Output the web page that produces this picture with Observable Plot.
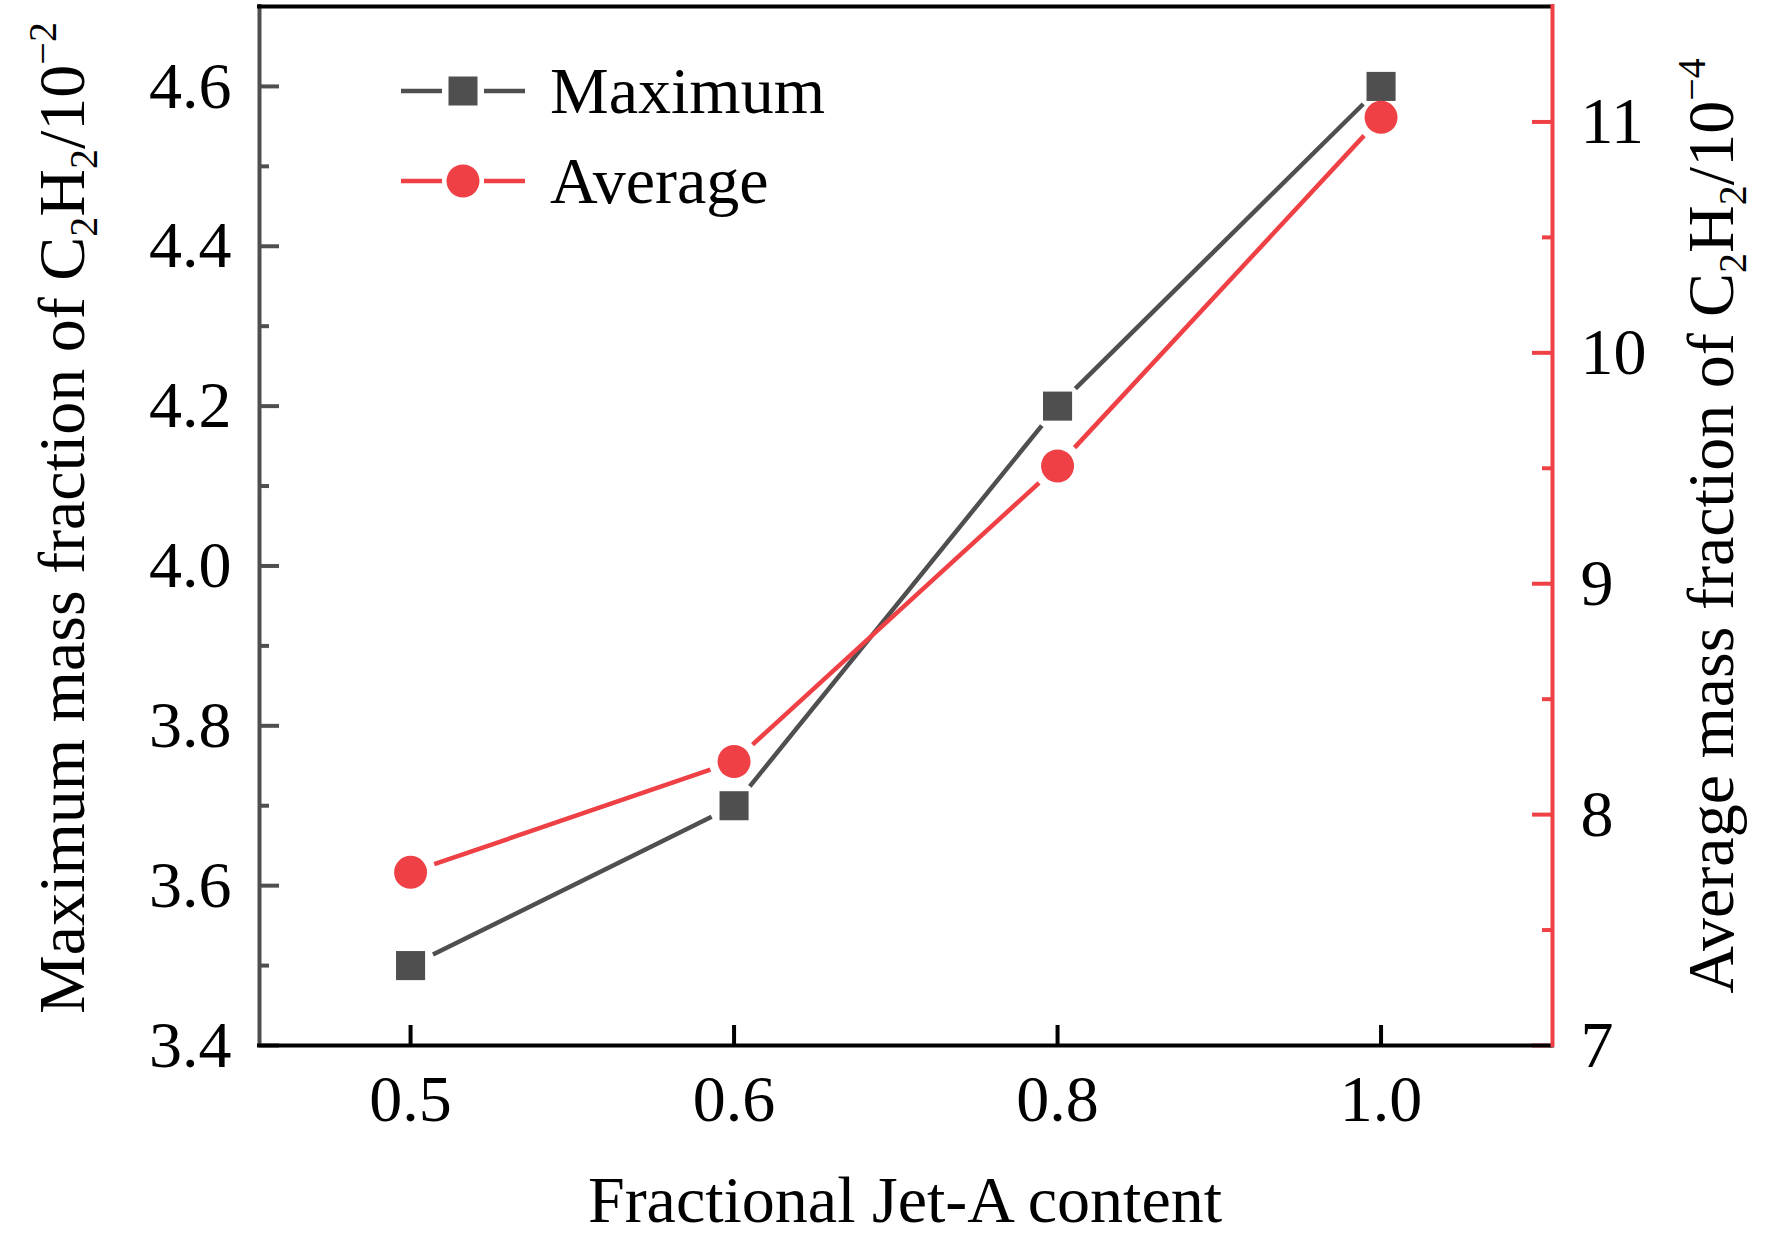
<!DOCTYPE html>
<html><head><meta charset="utf-8">
<script src="https://cdn.jsdelivr.net/npm/d3@7"></script>
<script src="https://cdn.jsdelivr.net/npm/@observablehq/plot@0.6"></script>
<style>html,body{margin:0;padding:0;background:#fff;} #chart{width:1772px;height:1243px;}</style>
</head><body><div id="chart"></div>
<script>
// ---- data ----
const categories = ["0.5", "0.6", "0.8", "1.0"];
const maximumValues = [3.5, 3.7, 4.2, 4.6];      // left axis, ×10^-2
const averageValues = [7.75, 8.23, 9.51, 11.02]; // right axis, ×10^-4
const leftMajorTicks = [3.4, 3.6, 3.8, 4.0, 4.2, 4.4, 4.6];
const leftMinorTicks = [3.5, 3.7, 3.9, 4.1, 4.3, 4.5];
const rightMajorTicks = [7, 8, 9, 10, 11];
const rightMinorTicks = [7.5, 8.5, 9.5, 10.5];
const leftDomain = [3.4, 4.7];
const rightDomain = [7, 11.5];
const xDomain = [-0.467, 3.530];
const seriesNames = ["Maximum", "Average"];

// ---- style ----
const GRAY = "#4f4f4f", RED = "#ee4045";
const W = 1772, H = 1243, mL = 259, mR = 220, mT = 6, mB = 198;
const plotW = W - mL - mR, plotH = H - mT - mB;
const FS = 66, FONT = "Liberation Serif, Times New Roman, serif";

const k = (leftDomain[1] - leftDomain[0]) / (rightDomain[1] - rightDomain[0]);
const toLeft = v => leftDomain[0] + (v - rightDomain[0]) * k;
const fromLeft = v => rightDomain[0] + (v - leftDomain[0]) / k;

const maxData = maximumValues.map((v, i) => ({i, v}));
const avgData = averageValues.map((v, i) => ({i, v: toLeft(v)}));
const segs = d => d.slice(1).map((p, j) => ({x1: d[j].i, y1: d[j].v, x2: p.i, y2: p.v}));

const plot = Plot.plot({
  width: W, height: H,
  marginLeft: mL, marginRight: mR, marginTop: mT, marginBottom: mB,
  style: {fontFamily: FONT, fontSize: FS + "px", color: "black", background: "white"},
  x: {domain: xDomain},
  y: {domain: leftDomain},
  marks: [
    // inward ticks
    Plot.ruleY(leftMajorTicks, {y: d => d, stroke: GRAY, strokeWidth: 4, insetRight: plotW - 20}),
    Plot.ruleY(leftMinorTicks, {y: d => d, stroke: GRAY, strokeWidth: 4, insetRight: plotW - 10}),
    Plot.ruleY(rightMajorTicks.map(toLeft), {y: d => d, stroke: RED, strokeWidth: 4, insetLeft: plotW - 20}),
    Plot.ruleY(rightMinorTicks.map(toLeft), {y: d => d, stroke: RED, strokeWidth: 4, insetLeft: plotW - 10}),
    Plot.ruleX(categories.map((_, i) => i), {x: d => d, stroke: "black", strokeWidth: 4, insetTop: plotH - 20}),
    // frame
    Plot.ruleX([xDomain[0]], {x: d => d, stroke: GRAY, strokeWidth: 4, insetTop: -2, insetBottom: -2}),
    Plot.ruleY([leftDomain[1]], {y: d => d, stroke: "black", strokeWidth: 4, insetLeft: -2, insetRight: -2}),
    Plot.ruleY([leftDomain[0]], {y: d => d, stroke: "black", strokeWidth: 4, insetLeft: -2, insetRight: -2}),
    Plot.ruleX([xDomain[1]], {x: d => d, stroke: RED, strokeWidth: 4, insetTop: -2, insetBottom: -2}),
    // tick labels
    Plot.axisY({anchor: "left", ticks: leftMajorTicks, tickSize: 0, tickPadding: 28, fontSize: FS,
      tickFormat: d => d.toFixed(1), label: null}),
    Plot.axisY({anchor: "right", ticks: rightMajorTicks.map(toLeft), tickSize: 0, tickPadding: 28, fontSize: FS,
      tickFormat: d => String(Math.round(fromLeft(d))), label: null}),
    Plot.axisX({anchor: "bottom", ticks: categories.map((_, i) => i), tickSize: 0, tickPadding: 29, fontSize: FS,
      tickFormat: d => categories[Math.round(d)], label: null}),
    // series lines with gaps at markers
    Plot.arrow(segs(maxData), {x1: "x1", y1: "y1", x2: "x2", y2: "y2", stroke: GRAY, strokeWidth: 4.5,
      headLength: 0, insetStart: 25, insetEnd: 25, strokeLinecap: "butt"}),
    Plot.arrow(segs(avgData), {x1: "x1", y1: "y1", x2: "x2", y2: "y2", stroke: RED, strokeWidth: 4.5,
      headLength: 0, insetStart: 25, insetEnd: 25, strokeLinecap: "butt"}),
    Plot.dot(maxData, {x: "i", y: "v", symbol: "square", r: 16.4, fill: GRAY}),
    Plot.dot(avgData, {x: "i", y: "v", symbol: "circle", r: 16.5, fill: RED})
  ]
});

const svg = d3.select(plot);
function rich(sel, parts) {
  let shift = 0;
  parts.forEach(p => {
    const target = p[1] === "sub" ? 13 : p[1] === "sup" ? -28 : 0;
    const t = sel.append("tspan").text(p[0]).attr("dy", target - shift);
    if (p[1]) t.attr("font-size", 40);
    shift = target;
  });
}
const baseText = () => svg.append("text").attr("font-family", FONT).attr("font-size", FS).attr("fill", "black");

rich(baseText().attr("text-anchor", "middle").attr("transform", "translate(84,518) rotate(-90)"),
  [["Maximum mass fraction of C"], ["2", "sub"], ["H"], ["2", "sub"], ["/10"], ["\u22122", "sup"]]);
rich(baseText().attr("text-anchor", "middle").attr("transform", "translate(1733,526) rotate(-90)"),
  [["Average mass fraction of C"], ["2", "sub"], ["H"], ["2", "sub"], ["/10"], ["\u22124", "sup"]]);
baseText().attr("text-anchor", "middle").attr("x", 905).attr("y", 1222).text("Fractional Jet-A content");

// legend
const leg = svg.append("g");
[[seriesNames[0], GRAY, "square", 91], [seriesNames[1], RED, "circle", 181]].forEach(([name, c, sym, y]) => {
  leg.append("line").attr("x1", 401).attr("x2", 442).attr("y1", y).attr("y2", y).attr("stroke", c).attr("stroke-width", 4.5);
  leg.append("line").attr("x1", 484).attr("x2", 525).attr("y1", y).attr("y2", y).attr("stroke", c).attr("stroke-width", 4.5);
  if (sym === "square") leg.append("rect").attr("x", 463 - 14.5).attr("y", y - 14.5).attr("width", 29).attr("height", 29).attr("fill", c);
  else leg.append("circle").attr("cx", 463).attr("cy", y).attr("r", 16.5).attr("fill", c);
  leg.append("text").attr("x", 550).attr("y", y + 22).attr("text-anchor", "start")
    .attr("font-family", FONT).attr("font-size", FS).attr("fill", "black").text(name);
});

document.getElementById("chart").appendChild(plot);
</script></body></html>
